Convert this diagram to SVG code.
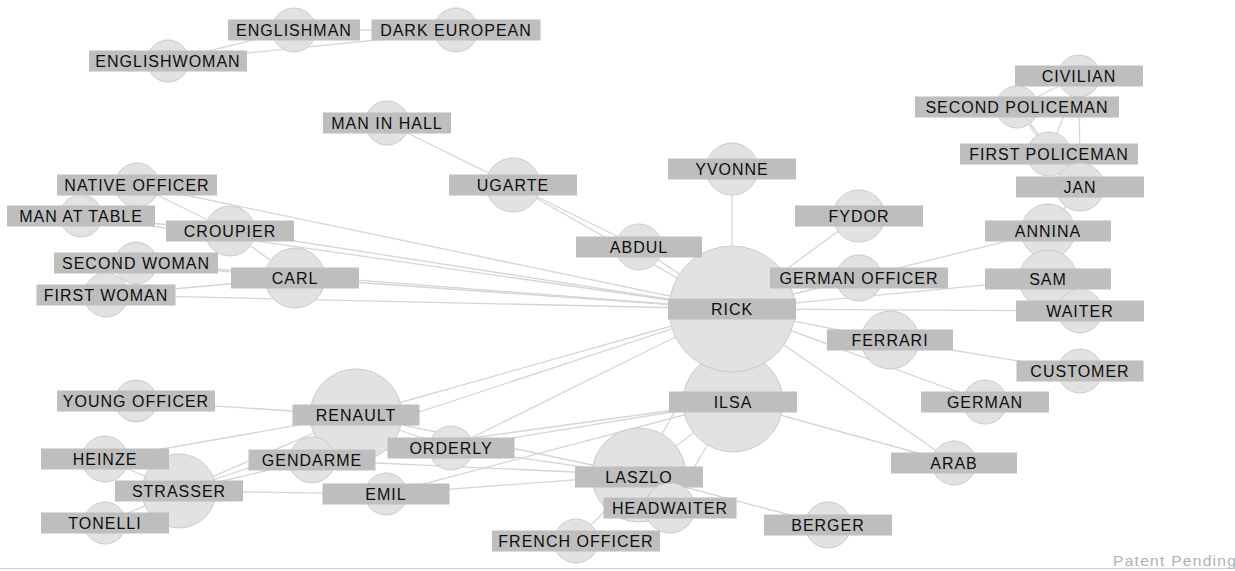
<svg xmlns="http://www.w3.org/2000/svg" width="1235" height="571" viewBox="0 0 1235 571">
<style>
.edge{stroke:#d5d5d5;stroke-width:1.3;fill:none}
.bub{fill:#e2e2e2;stroke:#cbcbcb;stroke-width:1}
.lab{fill:#bebebe}
.txt{font-family:"Liberation Sans",Arial,sans-serif;font-size:16px;letter-spacing:1px;fill:#0e0e0e;text-anchor:middle}
.pat{font-family:"Liberation Sans",Arial,sans-serif;font-size:15.5px;letter-spacing:1.3px;fill:#b0b0b0}
</style>
<rect width="1235" height="571" fill="#ffffff"/>
<g id="connectors">
<line class="edge" x1="294" y1="30" x2="456" y2="30"/>
<line class="edge" x1="168" y1="61" x2="456" y2="32"/>
<line class="edge" x1="168" y1="61" x2="294" y2="30"/>
<line class="edge" x1="387" y1="123" x2="513" y2="185"/>
<line class="edge" x1="513" y1="185" x2="732" y2="309"/>
<line class="edge" x1="513" y1="185" x2="639" y2="247"/>
<line class="edge" x1="639" y1="247" x2="732" y2="309"/>
<line class="edge" x1="137" y1="185" x2="732" y2="309"/>
<line class="edge" x1="137" y1="185" x2="230" y2="231"/>
<line class="edge" x1="81" y1="216" x2="732" y2="309"/>
<line class="edge" x1="81" y1="216" x2="230" y2="231"/>
<line class="edge" x1="230" y1="231" x2="732" y2="309"/>
<line class="edge" x1="230" y1="231" x2="295" y2="278"/>
<line class="edge" x1="136" y1="263" x2="732" y2="309"/>
<line class="edge" x1="136" y1="263" x2="295" y2="278"/>
<line class="edge" x1="106" y1="295" x2="732" y2="309"/>
<line class="edge" x1="106" y1="295" x2="295" y2="278"/>
<line class="edge" x1="295" y1="278" x2="732" y2="309"/>
<line class="edge" x1="732" y1="169" x2="732" y2="309"/>
<line class="edge" x1="859" y1="216" x2="732" y2="309"/>
<line class="edge" x1="859" y1="278" x2="732" y2="309"/>
<line class="edge" x1="1048" y1="231" x2="732" y2="309"/>
<line class="edge" x1="1048" y1="279" x2="732" y2="309"/>
<line class="edge" x1="1080" y1="311" x2="732" y2="309"/>
<line class="edge" x1="890" y1="340" x2="732" y2="309"/>
<line class="edge" x1="890" y1="340" x2="1080" y2="371"/>
<line class="edge" x1="985" y1="402" x2="732" y2="309"/>
<line class="edge" x1="954" y1="463" x2="732" y2="309"/>
<line class="edge" x1="954" y1="463" x2="733" y2="402"/>
<line class="edge" x1="732" y1="309" x2="733" y2="402"/>
<line class="edge" x1="1079" y1="76" x2="1017" y2="107"/>
<line class="edge" x1="1079" y1="76" x2="1049" y2="154"/>
<line class="edge" x1="1079" y1="76" x2="1080" y2="187"/>
<line class="edge" x1="1017" y1="107" x2="1049" y2="154"/>
<line class="edge" x1="1017" y1="107" x2="1080" y2="187"/>
<line class="edge" x1="1049" y1="154" x2="1080" y2="187"/>
<line class="edge" x1="1080" y1="187" x2="1048" y2="231"/>
<line class="edge" x1="1048" y1="231" x2="1048" y2="279"/>
<line class="edge" x1="1048" y1="279" x2="1080" y2="311"/>
<line class="edge" x1="136" y1="401" x2="356" y2="415"/>
<line class="edge" x1="105" y1="459" x2="356" y2="415"/>
<line class="edge" x1="105" y1="459" x2="179" y2="491"/>
<line class="edge" x1="105" y1="523" x2="179" y2="491"/>
<line class="edge" x1="179" y1="491" x2="312" y2="460"/>
<line class="edge" x1="179" y1="491" x2="356" y2="415"/>
<line class="edge" x1="179" y1="491" x2="386" y2="494"/>
<line class="edge" x1="179" y1="491" x2="732" y2="309"/>
<line class="edge" x1="356" y1="415" x2="732" y2="309"/>
<line class="edge" x1="356" y1="415" x2="639" y2="475"/>
<line class="edge" x1="356" y1="415" x2="312" y2="460"/>
<line class="edge" x1="356" y1="415" x2="451" y2="448"/>
<line class="edge" x1="451" y1="448" x2="732" y2="309"/>
<line class="edge" x1="451" y1="448" x2="733" y2="402"/>
<line class="edge" x1="451" y1="448" x2="639" y2="475"/>
<line class="edge" x1="312" y1="460" x2="639" y2="475"/>
<line class="edge" x1="312" y1="460" x2="733" y2="402"/>
<line class="edge" x1="386" y1="494" x2="639" y2="475"/>
<line class="edge" x1="386" y1="494" x2="733" y2="402"/>
<line class="edge" x1="639" y1="475" x2="733" y2="402"/>
<line class="edge" x1="639" y1="475" x2="732" y2="309"/>
<line class="edge" x1="670" y1="508" x2="733" y2="402"/>
<line class="edge" x1="639" y1="475" x2="828" y2="525"/>
<line class="edge" x1="576" y1="541" x2="639" y2="475"/>
<line class="edge" x1="670" y1="508" x2="639" y2="475"/>
</g>
<g id="node-ilsa"><circle class="bub" cx="733" cy="402" r="50"/><rect class="lab" x="669" y="391.5" width="128" height="21"/><text class="txt" x="733" y="408">ILSA</text></g>
<g id="node-rick"><circle class="bub" cx="732" cy="309" r="63"/><rect class="lab" x="668" y="298.5" width="128" height="21"/><text class="txt" x="732" y="315">RICK</text></g>
<g id="node-englishman"><circle class="bub" cx="294" cy="30" r="22"/><rect class="lab" x="228" y="19.5" width="132" height="21"/><text class="txt" x="294" y="36">ENGLISHMAN</text></g>
<g id="node-dark-european"><circle class="bub" cx="456" cy="30" r="22"/><rect class="lab" x="371.5" y="19.5" width="169" height="21"/><text class="txt" x="456" y="36">DARK EUROPEAN</text></g>
<g id="node-englishwoman"><circle class="bub" cx="168" cy="61" r="21"/><rect class="lab" x="89" y="50.5" width="158" height="21"/><text class="txt" x="168" y="67">ENGLISHWOMAN</text></g>
<g id="node-man-in-hall"><circle class="bub" cx="387" cy="123" r="22"/><rect class="lab" x="323" y="112.5" width="128" height="21"/><text class="txt" x="387" y="129">MAN IN HALL</text></g>
<g id="node-ugarte"><circle class="bub" cx="513" cy="185" r="27"/><rect class="lab" x="449" y="174.5" width="128" height="21"/><text class="txt" x="513" y="191">UGARTE</text></g>
<g id="node-native-officer"><circle class="bub" cx="137" cy="185" r="22"/><rect class="lab" x="57" y="174.5" width="160" height="21"/><text class="txt" x="137" y="191">NATIVE OFFICER</text></g>
<g id="node-man-at-table"><circle class="bub" cx="81" cy="216" r="21"/><rect class="lab" x="7" y="205.5" width="148" height="21"/><text class="txt" x="81" y="222">MAN AT TABLE</text></g>
<g id="node-croupier"><circle class="bub" cx="230" cy="231" r="25"/><rect class="lab" x="166" y="220.5" width="128" height="21"/><text class="txt" x="230" y="237">CROUPIER</text></g>
<g id="node-second-woman"><circle class="bub" cx="136" cy="263" r="21"/><rect class="lab" x="54" y="252.5" width="164" height="21"/><text class="txt" x="136" y="269">SECOND WOMAN</text></g>
<g id="node-carl"><circle class="bub" cx="295" cy="278" r="30"/><rect class="lab" x="231" y="267.5" width="128" height="21"/><text class="txt" x="295" y="284">CARL</text></g>
<g id="node-first-woman"><circle class="bub" cx="106" cy="295" r="22"/><rect class="lab" x="36.5" y="284.5" width="139" height="21"/><text class="txt" x="106" y="301">FIRST WOMAN</text></g>
<g id="node-yvonne"><circle class="bub" cx="732" cy="169" r="26"/><rect class="lab" x="668" y="158.5" width="128" height="21"/><text class="txt" x="732" y="175">YVONNE</text></g>
<g id="node-abdul"><circle class="bub" cx="639" cy="247" r="23"/><rect class="lab" x="576" y="236.5" width="126" height="21"/><text class="txt" x="639" y="253">ABDUL</text></g>
<g id="node-fydor"><circle class="bub" cx="859" cy="216" r="26"/><rect class="lab" x="795" y="205.5" width="128" height="21"/><text class="txt" x="859" y="222">FYDOR</text></g>
<g id="node-german-officer"><circle class="bub" cx="859" cy="278" r="23"/><rect class="lab" x="770" y="267.5" width="178" height="21"/><text class="txt" x="859" y="284">GERMAN OFFICER</text></g>
<g id="node-civilian"><circle class="bub" cx="1079" cy="76" r="21"/><rect class="lab" x="1015" y="65.5" width="128" height="21"/><text class="txt" x="1079" y="82">CIVILIAN</text></g>
<g id="node-second-policeman"><circle class="bub" cx="1017" cy="107" r="21"/><rect class="lab" x="915" y="96.5" width="204" height="21"/><text class="txt" x="1017" y="113">SECOND POLICEMAN</text></g>
<g id="node-first-policeman"><circle class="bub" cx="1049" cy="154" r="22"/><rect class="lab" x="960" y="143.5" width="178" height="21"/><text class="txt" x="1049" y="160">FIRST POLICEMAN</text></g>
<g id="node-jan"><circle class="bub" cx="1080" cy="187" r="24"/><rect class="lab" x="1016" y="176.5" width="128" height="21"/><text class="txt" x="1080" y="193">JAN</text></g>
<g id="node-annina"><circle class="bub" cx="1048" cy="231" r="27"/><rect class="lab" x="985" y="220.5" width="126" height="21"/><text class="txt" x="1048" y="237">ANNINA</text></g>
<g id="node-sam"><circle class="bub" cx="1048" cy="279" r="29"/><rect class="lab" x="985" y="268.5" width="126" height="21"/><text class="txt" x="1048" y="285">SAM</text></g>
<g id="node-waiter"><circle class="bub" cx="1080" cy="311" r="22"/><rect class="lab" x="1016" y="300.5" width="128" height="21"/><text class="txt" x="1080" y="317">WAITER</text></g>
<g id="node-ferrari"><circle class="bub" cx="890" cy="340" r="29"/><rect class="lab" x="827" y="329.5" width="126" height="21"/><text class="txt" x="890" y="346">FERRARI</text></g>
<g id="node-customer"><circle class="bub" cx="1080" cy="371" r="22"/><rect class="lab" x="1016.5" y="360.5" width="127" height="21"/><text class="txt" x="1080" y="377">CUSTOMER</text></g>
<g id="node-german"><circle class="bub" cx="985" cy="402" r="22"/><rect class="lab" x="921" y="391.5" width="128" height="21"/><text class="txt" x="985" y="408">GERMAN</text></g>
<g id="node-arab"><circle class="bub" cx="954" cy="463" r="22"/><rect class="lab" x="891" y="452.5" width="126" height="21"/><text class="txt" x="954" y="469">ARAB</text></g>
<g id="node-young-officer"><circle class="bub" cx="136" cy="401" r="21"/><rect class="lab" x="57" y="390.5" width="158" height="21"/><text class="txt" x="136" y="407">YOUNG OFFICER</text></g>
<g id="node-renault"><circle class="bub" cx="356" cy="415" r="46"/><rect class="lab" x="292.5" y="404.5" width="127" height="21"/><text class="txt" x="356" y="421">RENAULT</text></g>
<g id="node-strasser"><circle class="bub" cx="179" cy="491" r="37"/><rect class="lab" x="115" y="480.5" width="128" height="21"/><text class="txt" x="179" y="497">STRASSER</text></g>
<g id="node-heinze"><circle class="bub" cx="105" cy="459" r="23"/><rect class="lab" x="41" y="448.5" width="128" height="21"/><text class="txt" x="105" y="465">HEINZE</text></g>
<g id="node-tonelli"><circle class="bub" cx="105" cy="523" r="21"/><rect class="lab" x="41" y="512.5" width="128" height="21"/><text class="txt" x="105" y="529">TONELLI</text></g>
<g id="node-gendarme"><circle class="bub" cx="312" cy="460" r="23"/><rect class="lab" x="248.5" y="449.5" width="127" height="21"/><text class="txt" x="312" y="466">GENDARME</text></g>
<g id="node-orderly"><circle class="bub" cx="451" cy="448" r="22"/><rect class="lab" x="387.5" y="437.5" width="127" height="21"/><text class="txt" x="451" y="454">ORDERLY</text></g>
<g id="node-emil"><circle class="bub" cx="386" cy="494" r="21"/><rect class="lab" x="322.5" y="483.5" width="127" height="21"/><text class="txt" x="386" y="500">EMIL</text></g>
<g id="node-laszlo"><circle class="bub" cx="639" cy="475" r="47"/><rect class="lab" x="575" y="466.5" width="128" height="21"/><text class="txt" x="639" y="483">LASZLO</text></g>
<g id="node-headwaiter"><circle class="bub" cx="670" cy="508" r="25"/><rect class="lab" x="603.5" y="497.5" width="133" height="21"/><text class="txt" x="670" y="514">HEADWAITER</text></g>
<g id="node-french-officer"><circle class="bub" cx="576" cy="541" r="22"/><rect class="lab" x="492" y="530.5" width="168" height="21"/><text class="txt" x="576" y="547">FRENCH OFFICER</text></g>
<g id="node-berger"><circle class="bub" cx="828" cy="525" r="23"/><rect class="lab" x="764" y="514.5" width="128" height="21"/><text class="txt" x="828" y="531">BERGER</text></g>
<line x1="0" y1="568.5" x2="1235" y2="568.5" stroke="#cfcfcf" stroke-width="1"/>
<text class="pat" x="1113" y="566">Patent Pending</text>
</svg>
